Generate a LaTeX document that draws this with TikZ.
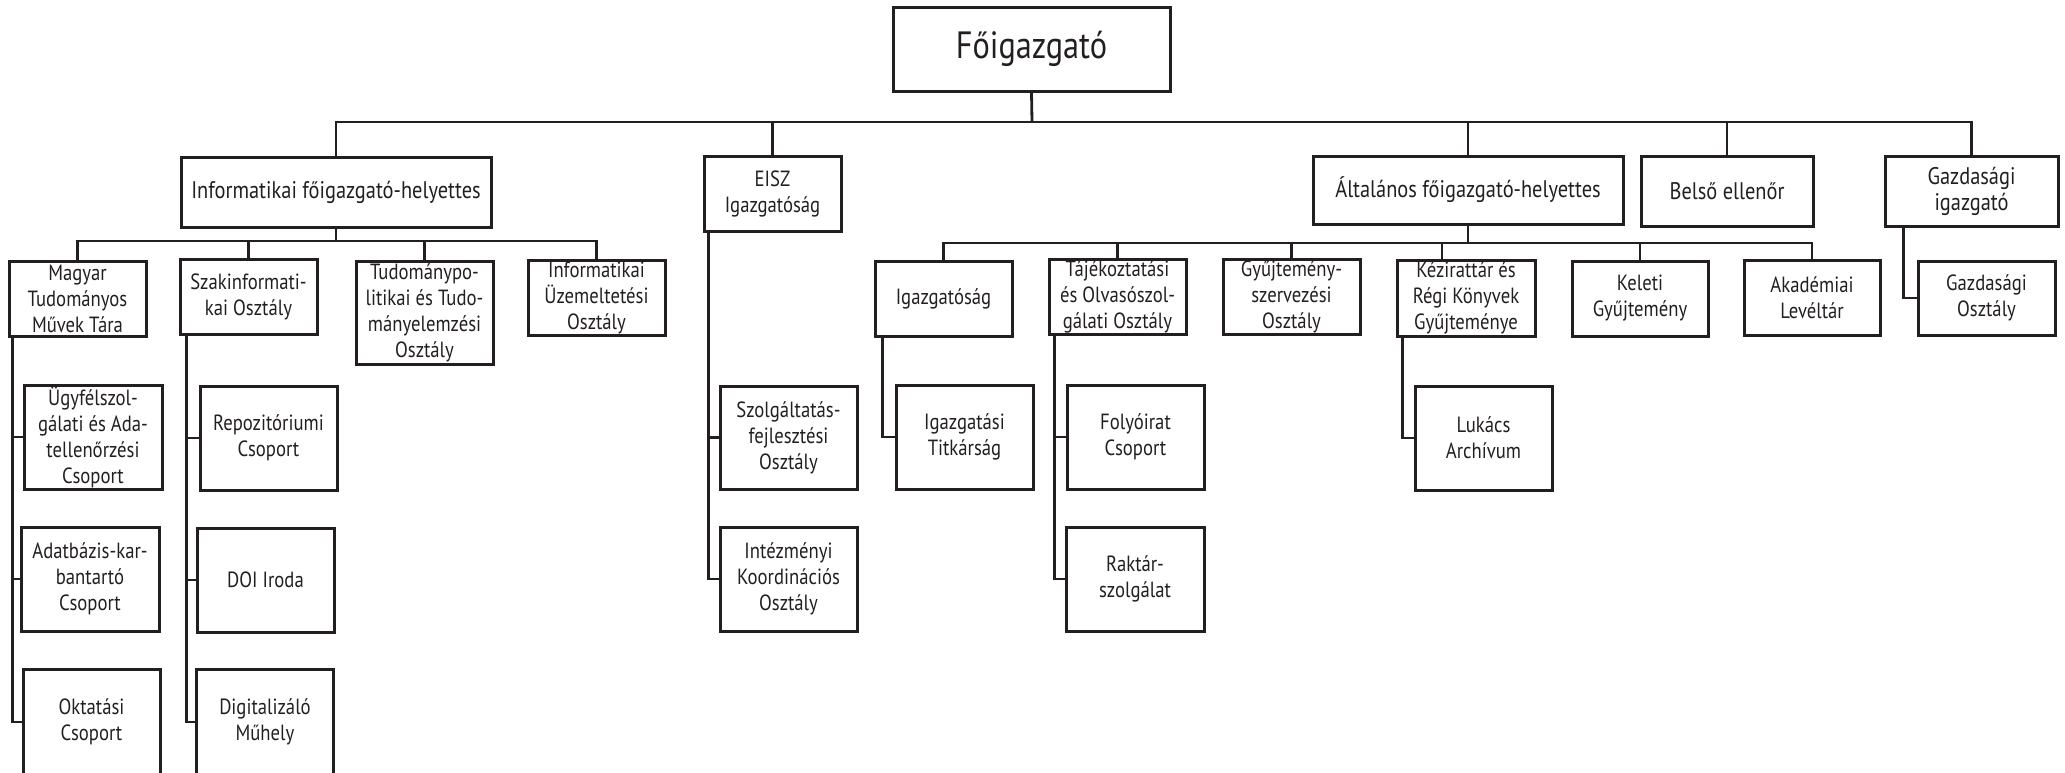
\documentclass[tikz,border=0pt]{standalone}
\usepackage{fontspec}
\setmainfont{PT Sans}[FakeStretch=0.85]
\usetikzlibrary{calc}
\definecolor{ink}{HTML}{231F20}
\begin{document}
\begin{tikzpicture}[x=0.5pt,y=-0.5pt,
  box/.style 2 args={draw=ink, line width=1.5pt, inner sep=0pt, align=center,
    minimum width=#1*0.5pt, minimum height=#2*0.5pt,
    font=\fontsize{11}{13}\selectfont, text=ink},
  head/.style={font=\fontsize{12}{13.2}\selectfont},
  conn/.style={draw=ink, line width=1.4pt}]
\useasboundingbox (0,0) rectangle (2065,772);
% level 0
\node[box={277}{84}, font=\fontsize{19}{22}\selectfont] (top) at (1031.5,49) {Főigazgató};
% level 1
\node[box={310}{70}, head] (inf) at (336,192) {Informatikai főigazgató-helyettes};
\node[box={137}{75}] (eisz) at (772.5,193.5) {EISZ\\Igazgatóság};
\node[box={310}{68}, head] (alt) at (1468,190) {Általános főigazgató-helyettes};
\node[box={172}{70}, head] (belso) at (1727,191) {Belső ellenőr};
\node[box={173}{70}, head] (gazdig) at (1971.5,191.5) {Gazdasági\\igazgató};
% level 2 (informatikai)
\node[box={137}{75}] (mtmt) at (77.5,298.5) {Magyar\\Tudományos\\Művek Tára};
\node[box={137}{75}] (szakinf) at (248.5,296.5) {Szakinformati-\\kai Osztály};
\node[box={137}{103}] (tudpol) at (424.5,312.5) {Tudománypo-\\litikai és Tudo-\\mányelemzési\\Osztály};
\node[box={137}{75}] (infuz) at (596.5,297.5) {Informatikai\\Üzemeltetési\\Osztály};
% level 3 (informatikai)
\node[box={138}{104}] (ugyf) at (93,437) {Ügyfélszol-\\gálati és Ada-\\tellenőrzési\\Csoport};
\node[box={138}{104}] (adatb) at (90,579) {Adatbázis-kar-\\bantartó\\Csoport};
\node[box={137}{106}] (okt) at (91.5,722) {Oktatási\\Csoport};
\node[box={137}{104}] (repo) at (268.5,438) {Repozitóriumi\\Csoport};
\node[box={137}{104}] (doi) at (265.5,580) {DOI Iroda};
\node[box={137}{106}] (digi) at (265,722) {Digitalizáló\\Műhely};
% EISZ children
\node[box={137}{103}] (szolg) at (788.5,437.5) {Szolgáltatás-\\fejlesztési\\Osztály};
\node[box={137}{104}] (intez) at (788.5,579) {Intézményi\\Koordinációs\\Osztály};
% level 2 (altalanos)
\node[box={137}{75}] (igazg) at (943.5,298.5) {Igazgatóság};
\node[box={137}{75}] (tajek) at (1117.5,296.5) {Tájékoztatási\\és Olvasószol-\\gálati Osztály};
\node[box={137}{75}] (gyujt) at (1291.5,296.5) {Gyűjtemény-\\szervezési\\Osztály};
\node[box={138}{76}] (kezir) at (1466,298) {Kézirattár és\\Régi Könyvek\\Gyűjteménye};
\node[box={136}{75}] (keleti) at (1640,298.5) {Keleti\\Gyűjtemény};
\node[box={136}{75}] (akad) at (1812,297.5) {Akadémiai\\Levéltár};
\node[box={137}{74}] (gazdo) at (1986.5,298) {Gazdasági\\Osztály};
% level 3 (altalanos)
\node[box={137}{104}] (titk) at (964.5,437) {Igazgatási\\Titkárság};
\node[box={137}{104}] (folyo) at (1135.5,437) {Folyóirat\\Csoport};
\node[box={138}{104}] (raktar) at (1135,579) {Raktár-\\szolgálat};
\node[box={137}{104}] (lukacs) at (1483.5,438) {Lukács\\Archívum};
% connectors: top bar
\coordinate (b0) at (1032,122);
\draw[conn] (top.south) -- (b0);
\draw[conn] (inf.north) -- (inf.north |- b0) -- (gazdig.north |- b0) -- (gazdig.north);
\draw[conn] (eisz.north) -- (eisz.north |- b0);
\draw[conn] (alt.north) -- (alt.north |- b0);
\draw[conn] (belso.north) -- (belso.north |- b0);
% informatikai bar
\coordinate (b1) at (336,241);
\draw[conn] (inf.south) -- (b1);
\draw[conn] (mtmt.north) -- (mtmt.north |- b1) -- (infuz.north |- b1) -- (infuz.north);
\draw[conn] (szakinf.north) -- (szakinf.north |- b1);
\draw[conn] (tudpol.north) -- (tudpol.north |- b1);
% altalanos bar
\coordinate (b2) at (1468,243);
\coordinate (kz) at ($(kezir.north)+(-24,0)$);
\draw[conn] (alt.south) -- (b2);
\draw[conn] (igazg.north) -- (igazg.north |- b2) -- (akad.north |- b2) -- (akad.north);
\draw[conn] (tajek.north) -- (tajek.north |- b2);
\draw[conn] (gyujt.north) -- (gyujt.north |- b2);
\draw[conn] (kz) -- (kz |- b2);
\draw[conn] (keleti.north) -- (keleti.north |- b2);
% vertical spines
\coordinate (v1) at ($(mtmt.south west)+(5,0)$);
\draw[conn] (v1) |- (okt.west);
\draw[conn] (ugyf.west) -- (ugyf.west -| v1);
\draw[conn] (adatb.west) -- (adatb.west -| v1);
\coordinate (v2) at ($(szakinf.south west)+(8,0)$);
\draw[conn] (v2) |- (digi.west);
\draw[conn] (repo.west) -- (repo.west -| v2);
\draw[conn] (doi.west) -- (doi.west -| v2);
\coordinate (v3) at ($(eisz.south west)+(6,0)$);
\draw[conn] (v3) |- (intez.west);
\draw[conn] (szolg.west) -- (szolg.west -| v3);
\coordinate (v4) at ($(igazg.south west)+(9,0)$);
\draw[conn] (v4) |- (titk.west);
\coordinate (v5) at ($(tajek.south west)+(7,0)$);
\draw[conn] (v5) |- (raktar.west);
\draw[conn] (folyo.west) -- (folyo.west -| v5);
\coordinate (v6) at ($(kezir.south west)+(7,0)$);
\draw[conn] (v6) |- (lukacs.west);
\coordinate (v7) at ($(gazdig.south west)+(20,0)$);
\draw[conn] (v7) |- (gazdo.west);
\end{tikzpicture}
\end{document}
